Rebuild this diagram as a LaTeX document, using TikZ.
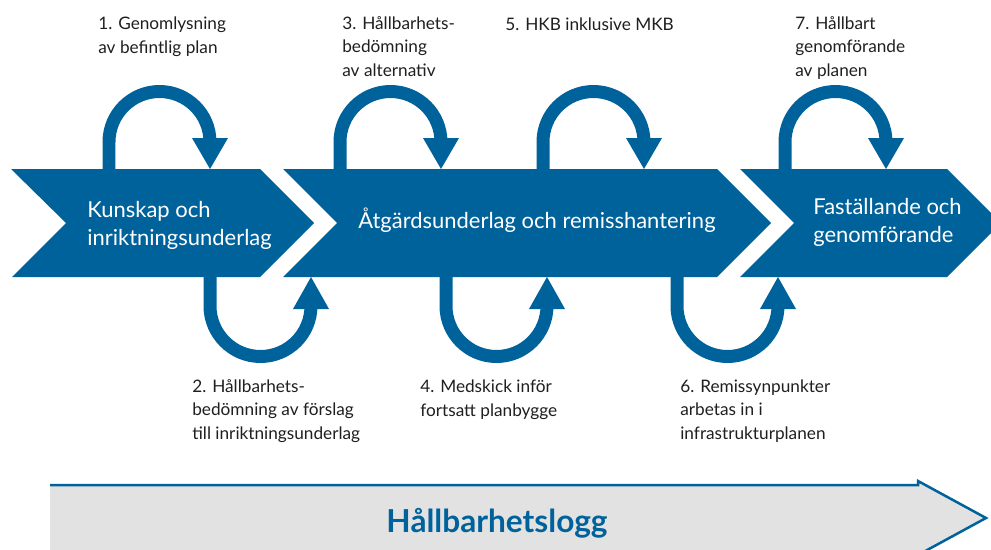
\documentclass[tikz,border=0pt]{standalone}
\usepackage{fontspec}
\setmainfont{Lato}
\usetikzlibrary{positioning, calc}

\definecolor{tvblue}{RGB}{0,98,155}
\definecolor{logggray}{RGB}{226,226,226}

\tikzset{
    chevron/.style={fill=tvblue},
    loopline/.style={draw=tvblue, line width=0.26cm},
    loophead/.style={fill=tvblue},
    phase/.style={text=white, inner sep=0pt, align=left, anchor=base west,
        font=\fontsize{12.5}{15.4}\selectfont},
    steplabel/.style={text=black!88, inner sep=0pt, align=left, anchor=base west,
        font=\fontsize{9.8}{13.1}\selectfont},
}

\begin{document}
\begin{tikzpicture}[x=0.02cm, y=0.02cm]
    % frame of the picture
    \clip (0,0) rectangle (991,549);

    % the log arrow at the bottom
    \fill[logggray] (50,64) -- (918,64) -- (918,68) -- (986,31) -- (918,-6) -- (50,-6) -- cycle;
    \draw[tvblue, line width=0.05cm] (50,64) -- (918,64) -- (918,68) -- (986,31) -- (918,-6);
    \node[font=\bfseries\fontsize{18}{20}\selectfont, text=tvblue] (logg) at (497,26) {Hållbarhetslogg};

    % the three phases
    \fill[chevron] (11,380) -- (260,380) -- (314,326) -- (260,272) -- (12,272) -- (66,326) -- cycle;
    \fill[chevron] (283,380) -- (717,380) -- (771,326) -- (717,272) -- (283,272) -- (337,326) -- cycle;
    \fill[chevron] (740,380) -- (947,380) -- (1001,326) -- (947,272) -- (740,272) -- (794,326) -- cycle;

    % (base anchor = baseline of the last line)
    \node[phase] (kunskap) at (87,304) {Kunskap och\\inriktningsunderlag};
    \node[phase] (atgard) at (358,321) {Åtgärdsunderlag och remisshantering};
    \node[phase] (faststall) at (813,307) {Faställande och\\genomförande};

    % ends of the loops
    \coordinate (t1a) at (109,380); \coordinate (t1b) at (210,380);
    \coordinate (t3a) at (340,380); \coordinate (t3b) at (441,380);
    \coordinate (t5a) at (543,380); \coordinate (t5b) at (644,380);
    \coordinate (t7a) at (785,380); \coordinate (t7b) at (886,380);
    \coordinate (b2a) at (210,272); \coordinate (b2b) at (311,272);
    \coordinate (b4a) at (446,272); \coordinate (b4b) at (547,272);
    \coordinate (b6a) at (677,272); \coordinate (b6b) at (778,272);

    % loops above the phases
    \draw[loopline] (t1a) -- ++(0,27) arc (180:0:1.01cm);
    \fill[loophead] (t1b) -- ++(-18,31) -- ++(36,0) -- cycle;
    \draw[loopline] (t3a) -- ++(0,27) arc (180:0:1.01cm);
    \fill[loophead] (t3b) -- ++(-18,31) -- ++(36,0) -- cycle;
    \draw[loopline] (t5a) -- ++(0,27) arc (180:0:1.01cm);
    \fill[loophead] (t5b) -- ++(-18,31) -- ++(36,0) -- cycle;
    \draw[loopline] (t7a) -- ++(0,27) arc (180:0:1.01cm);
    \fill[loophead] (t7b) -- ++(-18,31) -- ++(36,0) -- cycle;

    % loops below the phases
    \draw[loopline] (b2a) -- ++(0,-29) arc (180:360:1.01cm);
    \fill[loophead] (b2b) -- ++(-18,-32) -- ++(36,0) -- cycle;
    \draw[loopline] (b4a) -- ++(0,-29) arc (180:360:1.01cm);
    \fill[loophead] (b4b) -- ++(-18,-32) -- ++(36,0) -- cycle;
    \draw[loopline] (b6a) -- ++(0,-29) arc (180:360:1.01cm);
    \fill[loophead] (b6b) -- ++(-18,-32) -- ++(36,0) -- cycle;

    % steps
    \node[steplabel] (step1) at (98,496) {1. Genomlysning\\av befintlig plan};
    \node[steplabel] (step3) at (342,473) {3. Hållbarhets-\\bedömning\\av alternativ};
    \node[steplabel] (step5) at (505,519) {5. HKB inklusive MKB};
    \node[steplabel] (step7) at (795,473) {7. Hållbart\\genomförande\\av planen};
    \node[steplabel] (step2) at (192,110) {2. Hållbarhets-\\bedömning av förslag\\till inriktningsunderlag};
    \node[steplabel] (step4) at (420,133) {4. Medskick inför\\fortsatt planbygge};
    \node[steplabel] (step6) at (680,110) {6. Remissynpunkter\\arbetas in i\\infrastrukturplanen};
\end{tikzpicture}
\end{document}
